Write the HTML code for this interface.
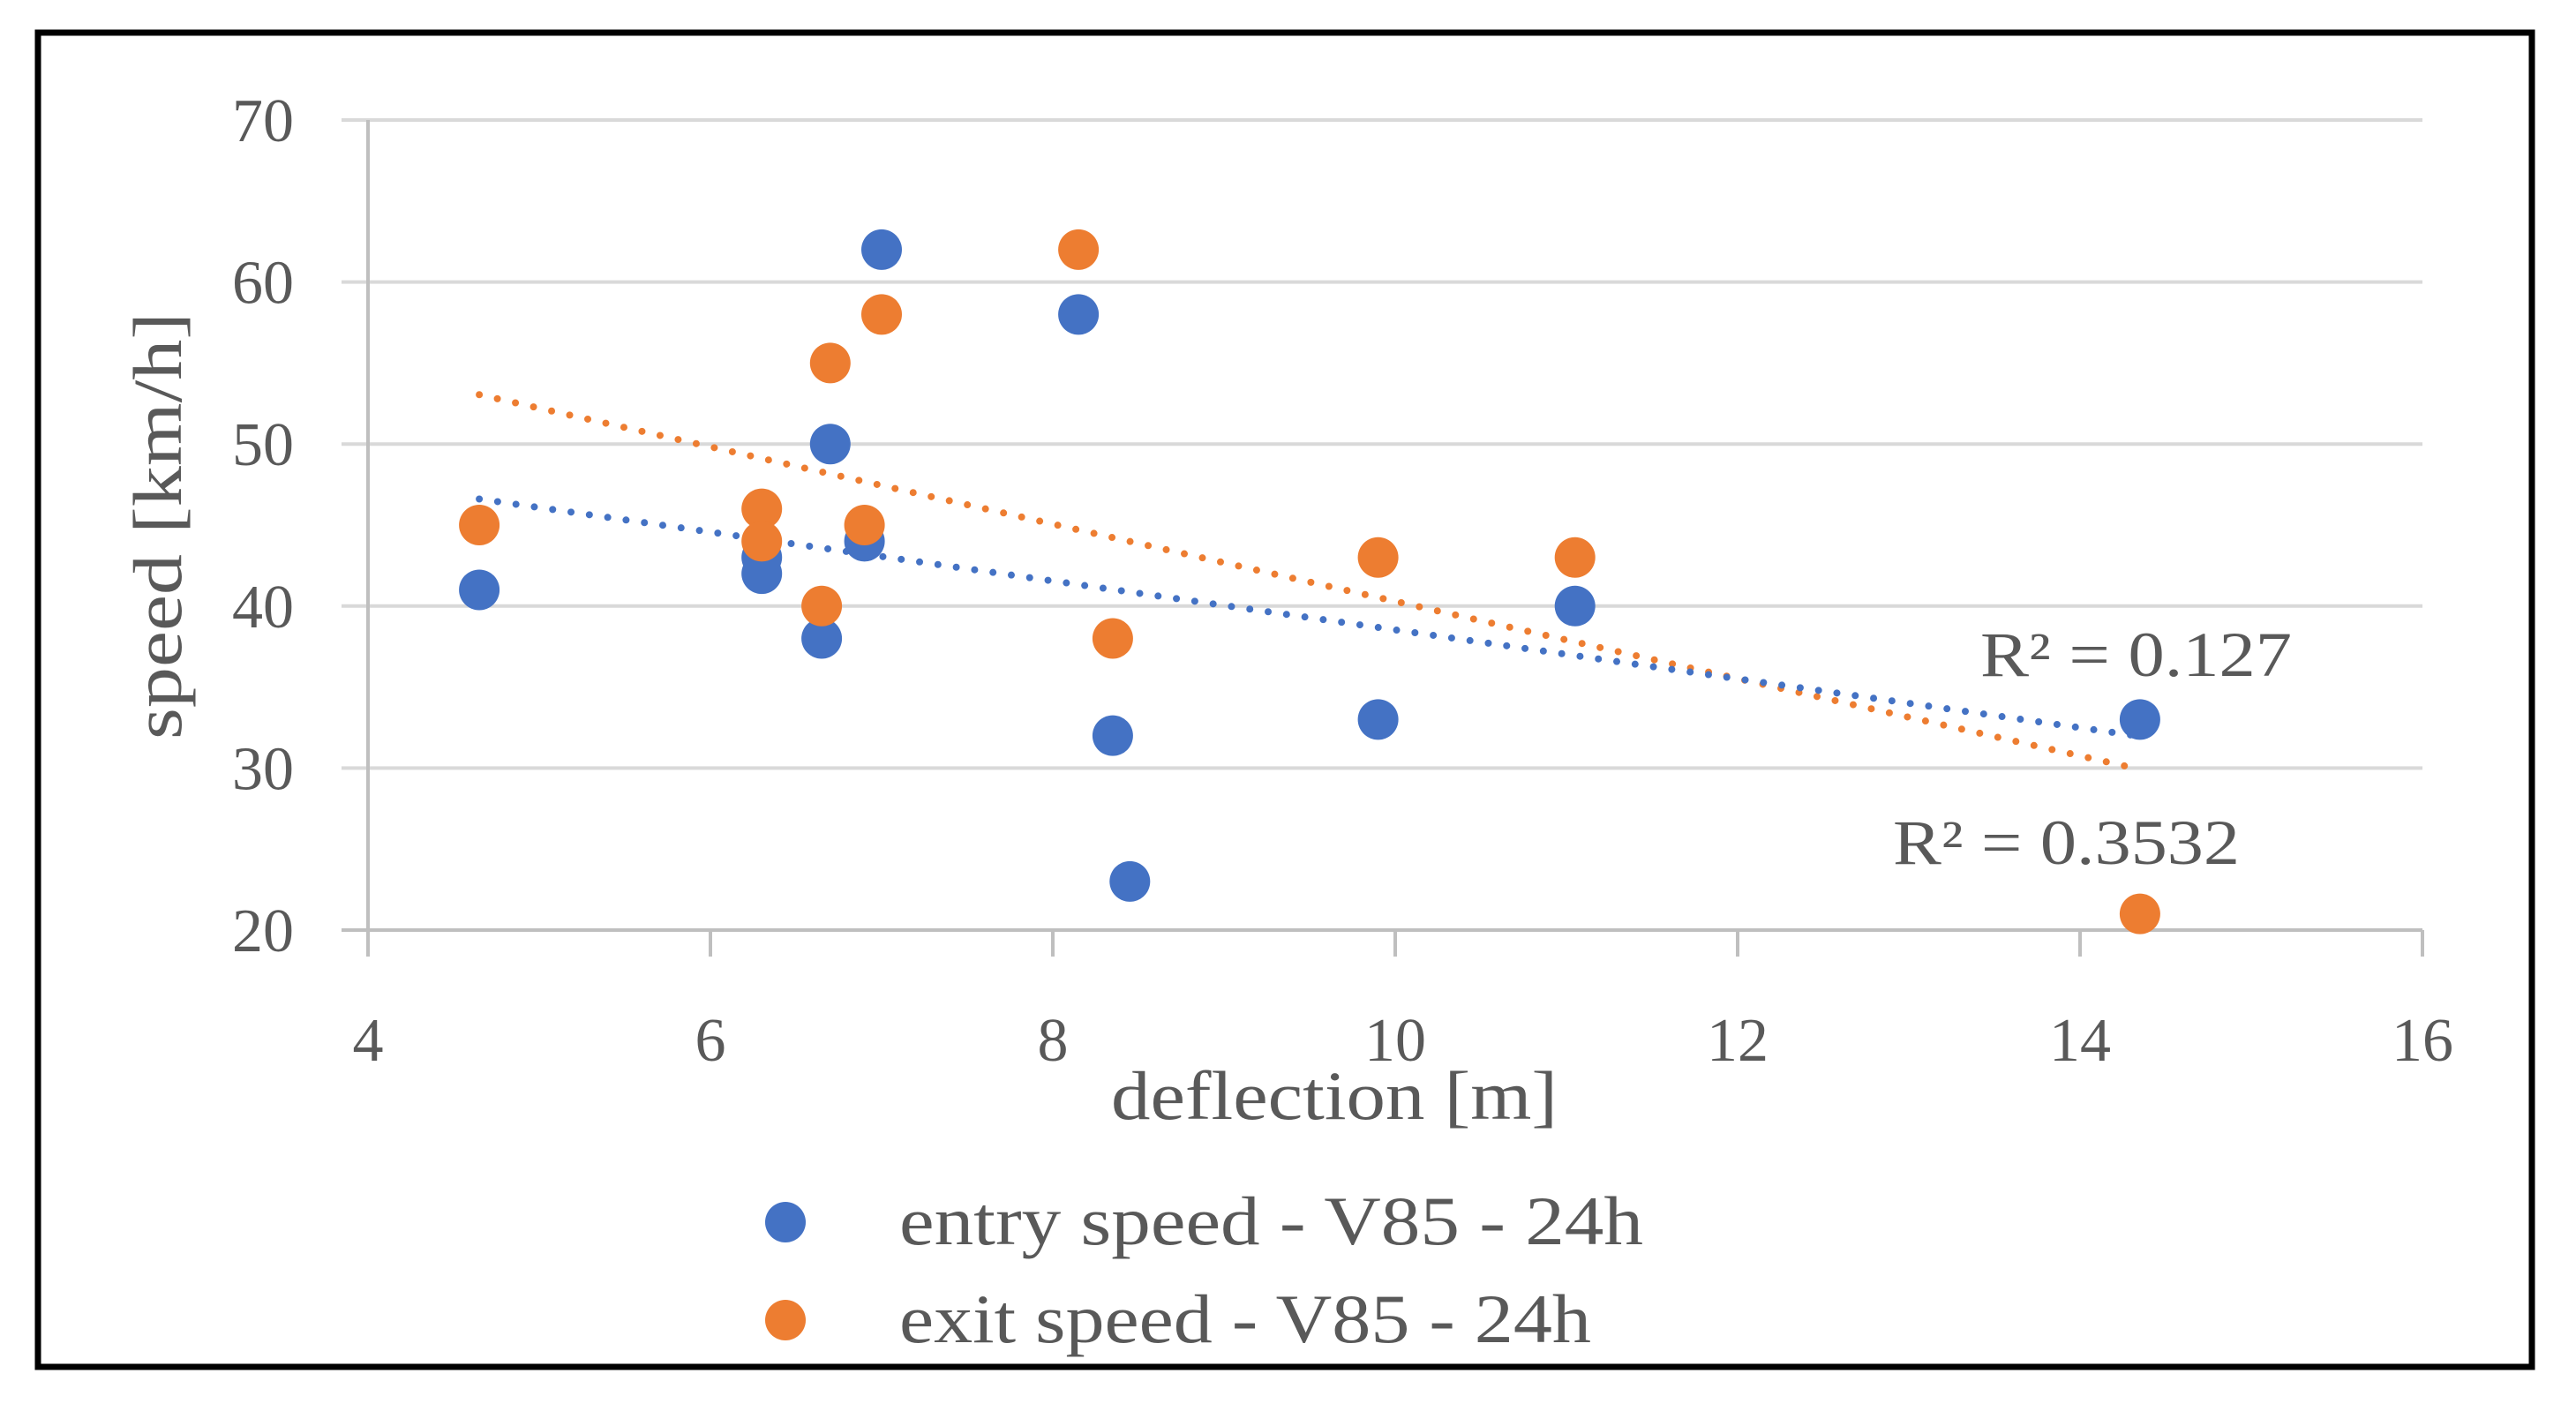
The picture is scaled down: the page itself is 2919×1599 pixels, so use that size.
<!DOCTYPE html>
<html><head><meta charset="utf-8"><style>
html,body{margin:0;padding:0;background:#fff;}
svg{display:block;font-family:"Liberation Serif",serif;}
</style></head><body>
<svg id="chart" width="2919" height="1599" viewBox="0 0 2919 1599" xmlns="http://www.w3.org/2000/svg">
<rect x="43" y="37" width="2826" height="1512" fill="#fff" stroke="#000" stroke-width="7"/>
<g id="grid"></g><g id="axes"></g><g id="trends"></g><g id="marks"></g><g id="labels"></g>
<text x="1259" y="1268" font-size="78" fill="#595959" textLength="506" lengthAdjust="spacingAndGlyphs">deflection [m]</text>
<text transform="translate(205,596) rotate(-90)" font-size="78" fill="#595959" text-anchor="middle" textLength="484" lengthAdjust="spacingAndGlyphs">speed [km/h]</text>
<text x="2244" y="766" font-size="72" fill="#595959" textLength="353" lengthAdjust="spacingAndGlyphs">R² = 0.127</text>
<text x="2145" y="979" font-size="72" fill="#595959" textLength="393" lengthAdjust="spacingAndGlyphs">R² = 0.3532</text>
<g>
<circle cx="890" cy="1385" r="23" fill="#4472C4"/>
<text x="1019" y="1410" font-size="78" fill="#595959" textLength="843" lengthAdjust="spacingAndGlyphs">entry speed - V85 - 24h</text>
<circle cx="890" cy="1496" r="23" fill="#ED7D31"/>
<text x="1019" y="1521" font-size="78" fill="#595959" textLength="784" lengthAdjust="spacingAndGlyphs">exit speed - V85 - 24h</text>
</g>
</svg>
<script>
const xTicks=[4,6,8,10,12,14,16];
const yTicks=[20,30,40,50,60,70];
const entryX=[4.65,6.3,6.3,6.65,6.7,6.9,7.0,8.15,8.35,8.45,9.9,11.05,14.35];
const entryY=[41,43,42,38,50,44,62,58,32,23,33,40,33];
const exitX=[4.65,6.3,6.3,6.65,6.7,6.9,7.0,8.15,8.35,9.9,11.05,14.35];
const exitY=[45,46,44,40,55,45,58,62,38,43,43,21];

const NS="http://www.w3.org/2000/svg";
const X0=417,X1=2745,Y0=1054,Y1=136;
function sx(v){return X0+(v-4)/(16-4)*(X1-X0);}
function sy(v){return Y0-(v-20)/(70-20)*(Y0-Y1);}
function mk(tag,attrs,parent){const e=document.createElementNS(NS,tag);for(const k in attrs)e.setAttribute(k,attrs[k]);document.getElementById(parent).appendChild(e);return e;}

yTicks.forEach(t=>{
  const g=mk('line',{x1:sx(4)-30,x2:sx(16),y1:sy(t),y2:sy(t),stroke:t===20?'#bfbfbf':'#d9d9d9','stroke-width':4},'grid');
  
  
  const l=mk('text',{x:333,y:sy(t)+24,'font-size':70,fill:'#595959','text-anchor':'end'},'labels');
  l.textContent=t;
  
  
});
const ya=mk('line',{x1:sx(4),x2:sx(4),y1:sy(70),y2:sy(20)+30,stroke:'#bfbfbf','stroke-width':4},'axes');


xTicks.forEach(t=>{
  const tk=mk('line',{x1:sx(t),x2:sx(t),y1:sy(20),y2:sy(20)+30,stroke:'#bfbfbf','stroke-width':4},'axes');
  
  
  const l=mk('text',{x:sx(t),y:1202,'font-size':70,fill:'#595959','text-anchor':'middle'},'labels');
  l.textContent=t;
  
  
});

function fit(xs,ys){const n=xs.length;let mx=0,my=0;for(let i=0;i<n;i++){mx+=xs[i];my+=ys[i];}mx/=n;my/=n;let a=0,b=0;for(let i=0;i<n;i++){a+=(xs[i]-mx)*(ys[i]-my);b+=(xs[i]-mx)**2;}const s=a/b;return [s,my-s*mx];}
function trend(xs,ys,color,name){
  const [s,c]=fit(xs,ys);const a=Math.min(...xs),b=Math.max(...xs);
  const l=mk('line',{x1:sx(a),y1:sy(s*a+c),x2:sx(b),y2:sy(s*b+c),stroke:color,'stroke-width':8,'stroke-linecap':'round','stroke-dasharray':'0 21'},'trends');
  
  
}
trend(exitX,exitY,'#ED7D31','exit-trendline');
trend(entryX,entryY,'#4472C4','entry-trendline');

entryX.forEach((x,i)=>{
  const p=mk('circle',{cx:sx(x),cy:sy(entryY[i]),r:23,fill:'#4472C4'},'marks');
  
  
});
exitX.forEach((x,i)=>{
  const p=mk('circle',{cx:sx(x),cy:sy(exitY[i]),r:23,fill:'#ED7D31'},'marks');
  
  
});
</script>
</body></html>
